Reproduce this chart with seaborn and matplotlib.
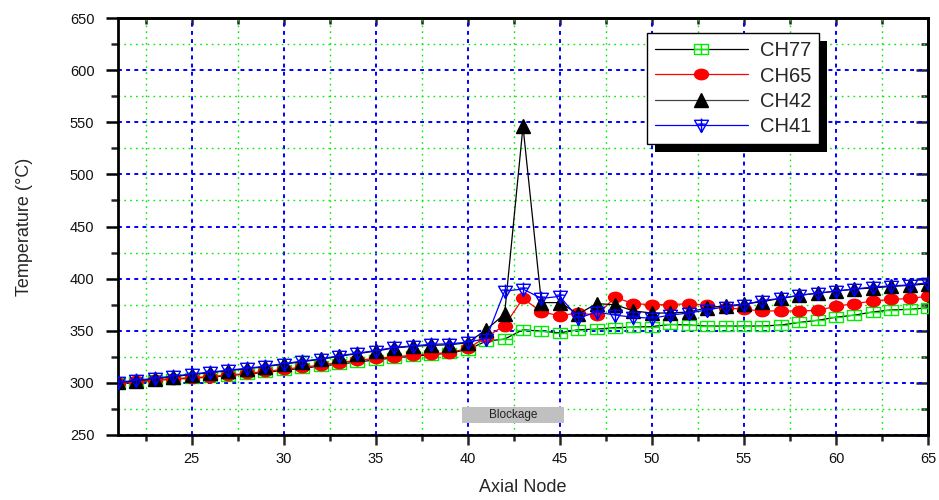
import matplotlib
matplotlib.use("Agg")
import matplotlib.pyplot as plt
import seaborn as sns
import numpy as np
from matplotlib.path import Path
from matplotlib.patches import Rectangle
from matplotlib.transforms import IdentityTransform

# ---------------- data ----------------
nodes = list(range(21, 66))
ch77 = [300, 301, 302.5, 303.5, 304.5, 305.5, 307, 308.5, 310, 312,
        314, 316, 318, 320, 322, 324, 325.5, 327, 328.5, 332,
        340, 342, 351, 349.5, 348, 351, 351.5, 353, 353.5, 354,
        356, 355.5, 354.5, 354.5, 354.5, 354.5, 355.5, 358, 360, 363,
        365, 368, 370, 370.5, 372]
ch65 = [300, 301.5, 303, 304, 305, 306, 307.5, 309, 311, 313,
        315, 317, 319.5, 321.5, 323.5, 325, 326.5, 328, 329, 333,
        344, 355, 381, 368, 364.5, 367, 365, 382, 376, 375,
        375, 376, 374.5, 372, 370.5, 369, 369, 369, 369.5, 373.5,
        376, 378.5, 380, 381, 383]
ch42 = [300.5, 302, 304, 306, 308, 309.8, 311.7, 313.6, 315.5, 318,
        320.3, 322.6, 325.5, 328, 330.5, 333.5, 335, 336, 336.5, 338.5,
        351, 366, 546, 377, 377, 366, 376, 375, 369, 367,
        367, 368, 372, 374, 375.5, 378, 381, 384, 386, 388,
        390, 391, 392.5, 393.5, 395]
ch41 = [300.5, 302.5, 304.5, 306.5, 308.5, 310.3, 312.2, 314, 316, 318.5,
        320.8, 323, 326, 328.5, 331, 334, 335.5, 337, 337.5, 339,
        342.5, 388, 390, 381, 383, 362, 368, 365, 363, 362,
        365, 367, 370, 373, 375, 379, 381, 384, 386, 388,
        390, 392, 393, 394, 396]
series_names = ["CH77", "CH65", "CH42", "CH41"]
x_major = [25, 30, 35, 40, 45, 50, 55, 60, 65]
x_minor = [22.5, 27.5, 32.5, 37.5, 42.5, 47.5, 52.5, 57.5, 62.5]
y_major = [250, 300, 350, 400, 450, 500, 550, 600, 650]
y_minor = [275, 325, 375, 425, 475, 525, 575, 625]
blockage_label = "Blockage"
blockage_span = (39.7, 45.2)

# ---------------- markers ----------------
M, L, C = Path.MOVETO, Path.LINETO, Path.CLOSEPOLY
boxplus = Path(
    [(-1, -0.7), (1, -0.7), (1, 0.7), (-1, 0.7), (-1, -0.7),
     (-1, 0), (1, 0), (0, -0.7), (0, 0.7)],
    [M, L, L, L, C, M, L, M, L])
tri_plus = Path(
    [(-1, 0.75), (1, 0.75), (0, -1), (-1, 0.75),
     (0, 1.0), (0, -1), (-0.55, 0.2), (0.55, 0.2)],
    [M, L, L, C, M, L, M, L])
circ = Path.unit_circle()
ellipse = Path(circ.vertices * np.array([1.0, 0.75]), circ.codes)

# ---------------- figure ----------------
sns.set_style("white")
plt.rcParams['font.family'] = ['Liberation Sans', 'DejaVu Sans']

fig = plt.figure(figsize=(9.39, 5.0), dpi=100)
ax = fig.add_axes([118 / 939, 1 - 435 / 500, 810 / 939, 417 / 500])

styles = [
    dict(y=ch77, color="black", marker=boxplus, ms=10, mec="#00ee00", mfc="none", mew=1.0),
    dict(y=ch65, color="red", marker=ellipse, ms=10, mec="red", mfc="red", mew=1.0),
    dict(y=ch42, color="black", marker="^", ms=9.5, mec="black", mfc="black", mew=1.0),
    dict(y=ch41, color="blue", marker=tri_plus, ms=10, mec="blue", mfc="none", mew=1.0),
]
handles = []
for name, st in zip(series_names, styles):
    sns.lineplot(x=nodes, y=st["y"], ax=ax, color=st["color"], lw=0.9,
                 marker=st["marker"], markersize=st["ms"],
                 markeredgecolor=st["mec"], markerfacecolor=st["mfc"],
                 markeredgewidth=st["mew"], legend=False, zorder=3)
    handles.append(ax.lines[-1])

ax.set_xlim(21, 65)
ax.set_ylim(250, 650)
ax.set_xticks(x_major)
ax.set_xticks(x_minor, minor=True)
ax.set_yticks(y_major)
ax.set_yticks(y_minor, minor=True)

ax.grid(which="major", color="#0000ff", linestyle=(0, (2, 2.2)), lw=1.4)
ax.grid(which="minor", color="#00ee00", linestyle=(0, (1.2, 3)), lw=1.0)
ax.set_axisbelow(True)

for s in ax.spines.values():
    s.set_linewidth(2)
    s.set_color("black")

ax.tick_params(axis="y", which="major", direction="out", length=9, width=1.8,
               labelsize=10.5, pad=8, left=True, colors="black", labelcolor="#111111")
ax.tick_params(axis="y", which="minor", direction="out", length=5, width=1.8, left=True)
ax.tick_params(axis="x", which="major", direction="out", length=7, width=1.8,
               labelsize=10.5, pad=5, bottom=True, labelcolor="#111111")
ax.tick_params(axis="x", which="minor", direction="out", length=4, width=1.8, bottom=True)

sec_y = ax.secondary_yaxis("right")
sec_y.set_yticks(y_major)
sec_y.set_yticks(y_minor, minor=True)
sec_y.tick_params(which="major", direction="in", length=9, width=1.8, labelright=False)
sec_y.tick_params(which="minor", direction="in", length=5, width=1.8)
sec_y.spines["right"].set_linewidth(2)

sec_x = ax.secondary_xaxis("top")
sec_x.set_xticks(x_major)
sec_x.set_xticks(x_minor, minor=True)
sec_x.tick_params(which="major", direction="in", length=5, width=1.8, labeltop=False)
sec_x.tick_params(which="minor", direction="in", length=4, width=1.8)
sec_x.spines["top"].set_linewidth(2)

ax.set_xlabel("Axial Node", fontsize=13)
ax.set_ylabel("Temperature (°C)", fontsize=13)
ax.xaxis.set_label_coords(0.5, -0.105)
ax.yaxis.set_label_coords(-0.105, 0.5)

# blockage box
ax.add_patch(Rectangle((blockage_span[0], 261.5), blockage_span[1] - blockage_span[0], 15.4,
                       facecolor="#c0c0c0", edgecolor="none", zorder=2.5))
ax.text(sum(blockage_span) / 2, 269.2, blockage_label, ha="center", va="center",
        fontsize=8.5, color="#222222", zorder=2.6)

leg = ax.legend(handles=handles, labels=series_names, loc="upper left",
                bbox_to_anchor=(0.653, 0.964), fontsize=14.5, frameon=True,
                fancybox=False, edgecolor="black", framealpha=1,
                handlelength=4.6, handletextpad=0.6, labelspacing=0.32,
                borderpad=0.4, borderaxespad=0, numpoints=1)
leg.get_frame().set_linewidth(1.0)
leg.set_zorder(10)
leg.legend_handles[2].set_color("#444444")

fig.canvas.draw()
bb = leg.get_window_extent()
ax.add_patch(Rectangle((bb.x0 + 8, bb.y0 - 8), bb.width, bb.height,
                       transform=IdentityTransform(), facecolor="black",
                       edgecolor="none", zorder=9, clip_on=False))

fig.savefig("out.png", dpi=100)
